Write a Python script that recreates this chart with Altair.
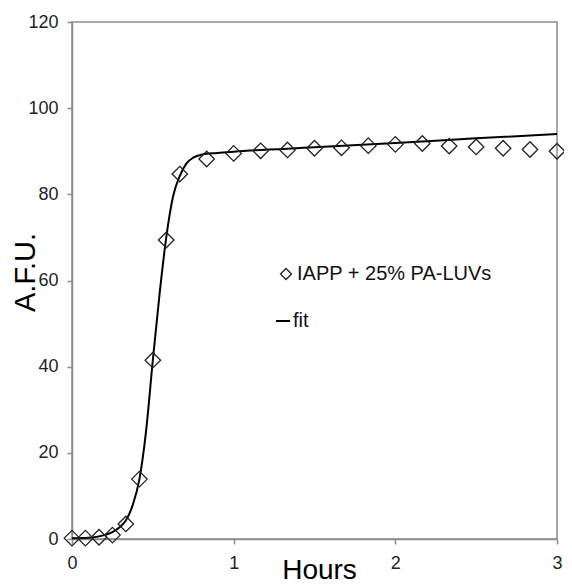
import altair as alt
import pandas as pd

# Measured data (hours, A.F.U.)
time_h = [0.0, 0.083, 0.167, 0.25, 0.333, 0.417, 0.5, 0.583, 0.667, 0.833,
          1.0, 1.167, 1.333, 1.5, 1.667, 1.833, 2.0, 2.167, 2.333, 2.5,
          2.667, 2.833, 3.0]
afu = [0.2, 0.2, 0.4, 0.9, 3.5, 13.9, 41.5, 69.4, 84.7, 88.2,
       89.5, 90.1, 90.3, 90.7, 90.8, 91.3, 91.6, 91.8, 91.2, 91.0,
       90.7, 90.4, 90.0]

# Fit curve
fit_t = [0.0, 0.1, 0.2, 0.25, 0.3, 0.333, 0.375, 0.417, 0.458, 0.5, 0.542,
         0.583, 0.625, 0.667, 0.708, 0.75, 0.8, 0.9, 1.0, 1.5, 2.0, 2.5, 3.0]
fit_y = [0.2, 0.3, 0.9, 1.6, 2.9, 4.3, 7.8, 13.9, 25.0, 41.5, 57.0,
         70.0, 79.5, 84.3, 87.2, 88.5, 89.2, 89.6, 89.9, 90.9, 91.9, 93.0, 94.0]

pts = pd.DataFrame({"t": time_h, "y": afu, "s": "IAPP + 25% PA-LUVs"})
fit = pd.DataFrame({"t": fit_t, "y": fit_y, "s": "fit"})

FONT = "Liberation Sans"
GRAY = "#8c8c8c"

x_enc = alt.X("t:Q", scale=alt.Scale(domain=[0, 3], nice=False),
              axis=alt.Axis(values=[0, 1, 2, 3], format="d", title="Hours",
                            titleX=247, titleY=39, titleBaseline="alphabetic",
                            titleAlign="center", titleFontSize=28,
                            labelPadding=10, labelFlush=False))
y_enc = alt.Y("y:Q", scale=alt.Scale(domain=[0, 120], nice=False),
              axis=alt.Axis(values=[0, 20, 40, 60, 80, 100, 120], title="A.F.U.",
                            titleX=-38, titleY=250, titleBaseline="alphabetic",
                            titleAlign="center", titleAngle=270, titleFontSize=29,
                            labelPadding=9))

line = alt.Chart(fit).mark_line(strokeWidth=2, interpolate="monotone").encode(
    x=x_enc, y=y_enc,
    color=alt.Color("s:N", scale=alt.Scale(range=["black"]),
                    legend=alt.Legend(title=None, orient="none", legendX=201, legendY=289,
                                      symbolType="stroke", symbolSize=196,
                                      symbolStrokeWidth=2, labelOffset=0,
                                      labelFontSize=20, labelFont=FONT,
                                      labelColor="#111", labelLimit=400)),
)

points = alt.Chart(pts).mark_point(shape="diamond", size=240, filled=False,
                                   color="#222", strokeWidth=1.3, opacity=1).encode(
    x="t:Q", y="y:Q",
    shape=alt.Shape("s:N", scale=alt.Scale(range=["diamond"]),
                    legend=alt.Legend(title=None, orient="none", legendX=204, legendY=242,
                                      symbolSize=121, symbolStrokeColor="#222",
                                      symbolFillColor="transparent",
                                      symbolStrokeWidth=1.3, labelOffset=1,
                                      labelFontSize=20, labelFont=FONT,
                                      labelColor="#111", labelLimit=400)),
)

chart = alt.layer(line, points).resolve_legend(color="independent", shape="independent").properties(
    width=485, height=517,
    autosize=alt.AutoSizeParams(type="none"),
    padding={"left": 64, "top": 14, "right": 7, "bottom": 46},
).configure_view(stroke=GRAY, strokeWidth=1.5).configure_axis(
    grid=False, domainColor=GRAY, domainWidth=1.5, tickColor=GRAY, tickSize=5,
    tickWidth=1.5, labelFont=FONT, labelFontSize=18, labelColor="#222",
    titleFont=FONT, titleFontWeight="normal", titleColor="#000",
)

chart.save("out.html", embed_options={"renderer": "svg", "actions": False})
